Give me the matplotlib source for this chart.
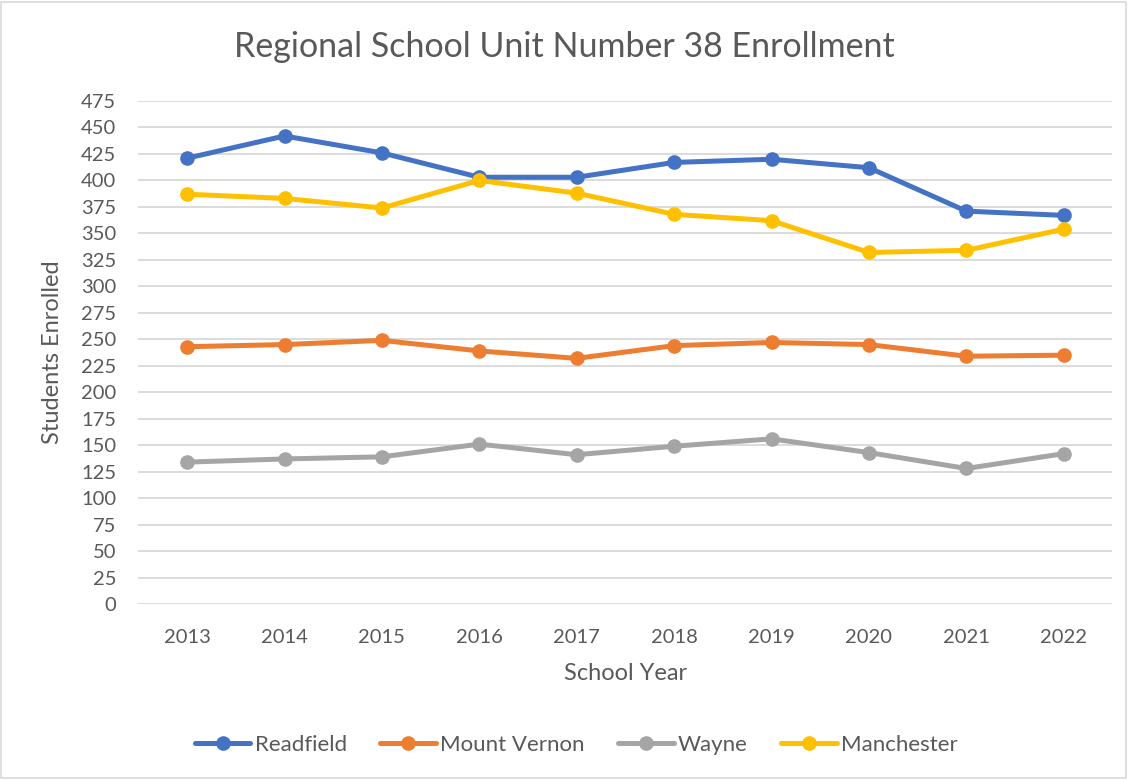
import matplotlib.pyplot as plt
from matplotlib.patches import Rectangle

# Data
years = ['2013', '2014', '2015', '2016', '2017', '2018', '2019', '2020', '2021', '2022']
readfield = [421, 442, 426, 403, 403, 417, 420, 412, 371, 367]
mount_vernon = [243, 245, 249, 239, 232, 244, 247, 245, 234, 235]
wayne = [134, 137, 139, 151, 141, 149, 156, 143, 128, 142]
manchester = [387, 383, 374, 400, 388, 368, 362, 332, 334, 354]

series_names = ['Readfield', 'Mount Vernon', 'Wayne', 'Manchester']
series_values = [readfield, mount_vernon, wayne, manchester]
series_colors = ['#4472C4', '#ED7D31', '#A5A5A5', '#FFC000']

plt.rcParams['font.family'] = ['Lato', 'DejaVu Sans']
text_color = '#595959'
grid_color = '#D9D9D9'

fig = plt.figure(figsize=(11.28, 7.8), dpi=100)
ax = fig.add_axes([0.1227, 0.2256, 0.8635, 0.6449])

x = range(len(years))
for name, vals, col in zip(series_names, series_values, series_colors):
    ax.plot(x, vals, color=col, linewidth=3.6, marker='o', markersize=9.5,
            label=name, solid_capstyle='round', zorder=3)

ax.set_xlim(-0.5, len(years) - 0.5)
ax.set_ylim(0, 475)
ax.set_yticks(range(0, 476, 25))
ax.set_xticks(list(x))
ax.set_xticklabels(years)
ax.grid(axis='y', color=grid_color, linewidth=1.3, zorder=0)
ax.set_axisbelow(True)
for s in ax.spines.values():
    s.set_visible(False)
ax.tick_params(axis='both', length=0, labelsize=14.5, colors=text_color)
ax.tick_params(axis='y', pad=16)
ax.tick_params(axis='x', pad=18)

ax.set_xlabel('School Year', fontsize=17, color=text_color, labelpad=12)
ax.set_ylabel('Students Enrolled', fontsize=17, color=text_color, labelpad=13)
fig.text(0.5, 0.94, 'Regional School Unit Number 38 Enrollment', ha='center', va='center',
         fontsize=24.5, color=text_color)

fig.legend(loc='center', bbox_to_anchor=(0.511, 0.045), ncol=4, frameon=False,
           fontsize=16, handlelength=2.5, handletextpad=0.2, columnspacing=1.5,
           labelcolor=text_color)

fig.patches.append(Rectangle((0.001, 0.003), 0.997, 0.995, transform=fig.transFigure,
                             fill=False, edgecolor=grid_color, linewidth=1.2))

fig.savefig('out.png', dpi=100)
